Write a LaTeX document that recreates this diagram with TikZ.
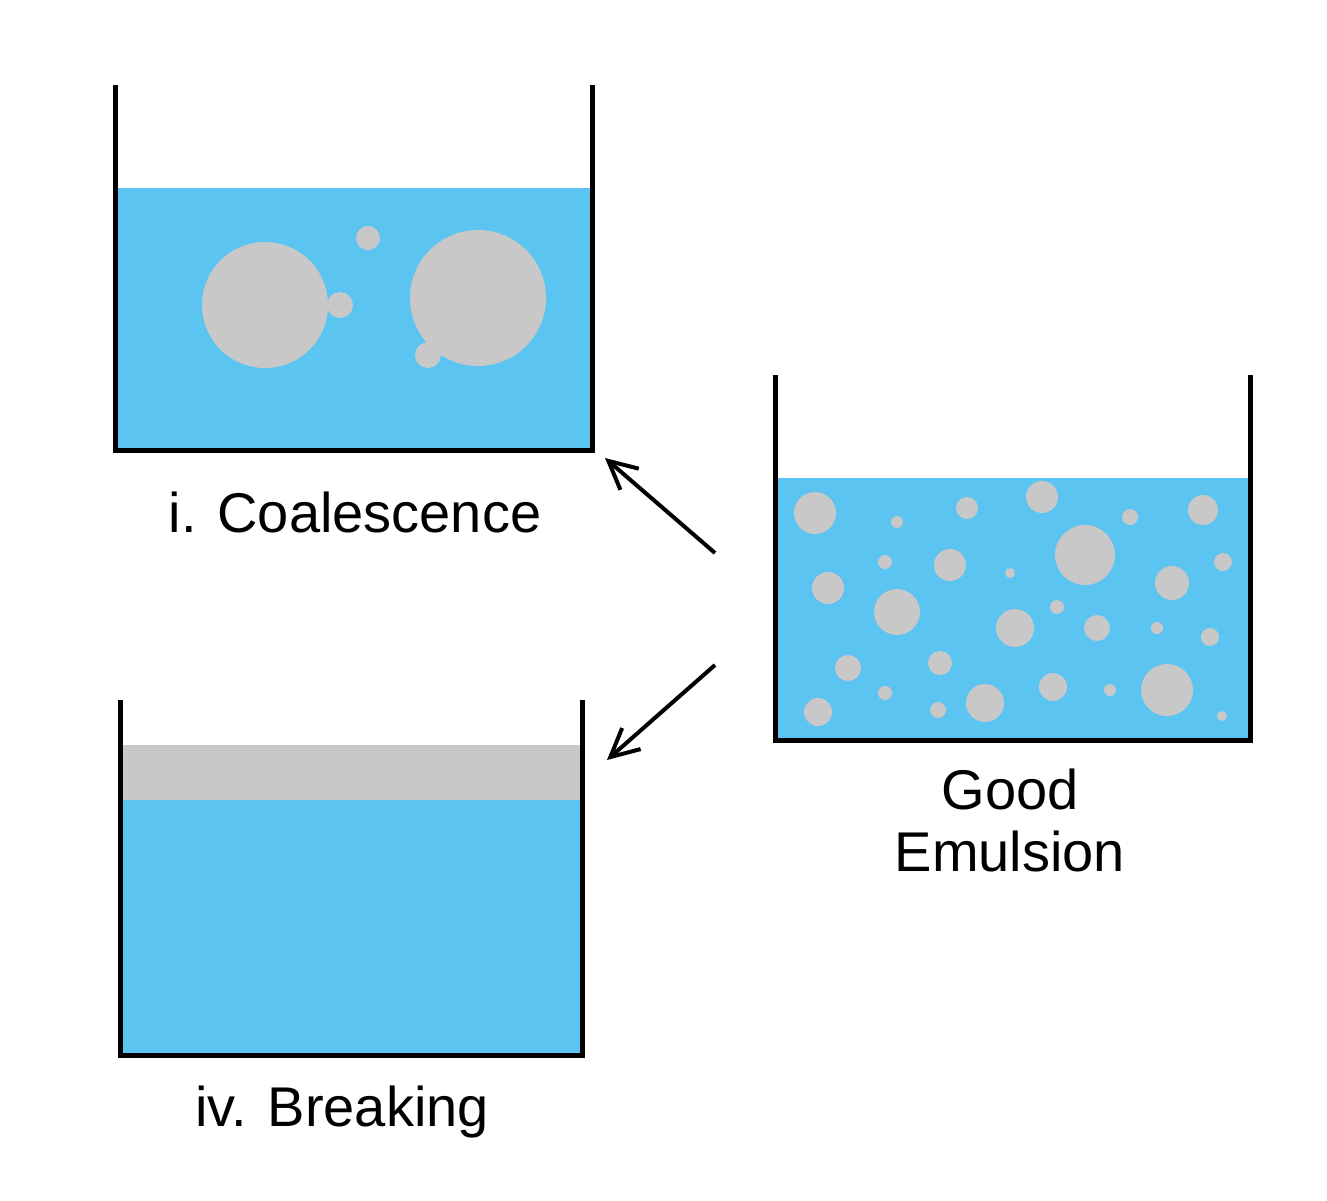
\documentclass[tikz,border=0pt]{standalone}
\usepackage{fontspec}
\setmainfont{Liberation Sans}
\usetikzlibrary{arrows.meta}
\definecolor{water}{RGB}{92,196,240}
\definecolor{oil}{RGB}{200,200,200}
\tikzset{
  wall/.style={line width=2.5pt, black},
  drop/.style={fill=oil, draw=none},
  caption/.style={font=\fontsize{28}{31}\selectfont, align=center},
  push/.style={-{Straight Barb[length=14pt,width=14pt]}, line width=2pt}
}
\begin{document}
\begin{tikzpicture}[x=0.5pt,y=-0.5pt]
  \useasboundingbox (0,0) rectangle (1327,1200);
  % coalescence beaker
  \fill[water] (116,188) rectangle (591,449);
  \foreach \x/\y/\r in {265/305/63,478/298/68,368/238/12,340/305/13,428/355/13}
    \fill[drop] (\x,\y) circle (\r);
  \draw[wall] (115,85) -- (115,450) -- (592,450) -- (592,85);
  \node[caption] (coal) at (355,512) {i. Coalescence};
  % good emulsion beaker
  \fill[water] (776,478) rectangle (1249,739);
  \foreach \x/\y/\r in {815/513/21,897/522/6,967/508/11,1042/497/16,1130/517/8,1203/510/15,
      885/562/7,950/565/16,1085/555/30,1010/573/5,1172/583/17,1223/562/9,
      828/588/16,897/612/23,1057/607/7,1015/628/19,1097/628/13,1157/628/6,1210/637/9,
      940/663/12,848/668/13,885/693/7,1053/687/14,1110/690/6,1167/690/26,
      985/703/19,938/710/8,818/712/14,1222/716/5}
    \fill[drop] (\x,\y) circle (\r);
  \draw[wall] (775,375) -- (775,740) -- (1250,740) -- (1250,375);
  \node[caption] (good) at (1010,820) {Good\\Emulsion};
  % breaking beaker
  \fill[oil] (121,745) rectangle (581,800);
  \fill[water] (121,800) rectangle (581,1054);
  \draw[wall] (120,700) -- (120,1055) -- (582,1055) -- (582,700);
  \node[caption] (brk) at (342,1112) {iv. Breaking};
  % arrows
  \coordinate (a1s) at (715,553);
  \coordinate (a1e) at (605,458);
  \coordinate (a2s) at (715,665);
  \coordinate (a2e) at (607,760);
  \draw[push] (a1s) -- (a1e);
  \draw[push] (a2s) -- (a2e);
\end{tikzpicture}
\end{document}
